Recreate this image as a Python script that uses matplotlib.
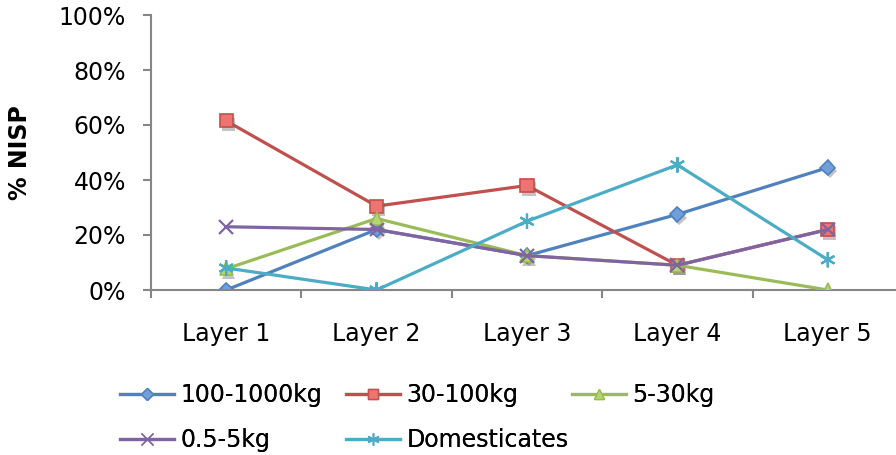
import numpy as np
import matplotlib.pyplot as plt
import matplotlib.patheffects as pe

### DATA
layers = ['Layer 1', 'Layer 2', 'Layer 3', 'Layer 4', 'Layer 5']
large = [0, 22, 12.5, 27.5, 44.5]        # 100-1000kg
medium = [61.5, 30.5, 38, 9, 22]         # 30-100kg
small = [7.7, 26, 12.5, 9, 0]            # 5-30kg
tiny = [23, 22, 12.5, 9, 22]             # 0.5-5kg
domestic = [8, 0, 25, 45.5, 11]          # Domesticates
names = ['100-1000kg', '30-100kg', '5-30kg', '0.5-5kg', 'Domesticates']

### STYLE
series = [large, medium, small, tiny, domestic]
colors = ['#4F81BD', '#C0504D', '#9BBB59', '#8064A2', '#4BACC6']
fills = ['#6FA0DC', '#EE7472', '#B5D56E', '#8064A2', '#4BACC6']
markers = ['D', 's', '^', 'x', (6, 2, 0)]
msizes = [7.5, 9.5, 9.5, 10, 11]
# legend slots (pixels from top-left): three on the first row, two below
leg_x = [120, 346, 572, 120, 346]
leg_y = [395, 395, 395, 440, 440]

plt.rcParams['font.family'] = 'DejaVu Sans'
W, H = 896, 455
fig = plt.figure(figsize=(W/100, H/100), dpi=100)
ax = fig.add_axes([151/W, 165/H, 752/W, 275/H])

x = np.arange(len(layers))
shadow = [pe.SimplePatchShadow(offset=(1.5, -2.5), shadow_rgbFace='#555555', alpha=0.35), pe.Normal()]
handles = []
for i in range(len(series)):
    ax.plot(x, series[i], color=colors[i], lw=2.3, zorder=2 + i)
    ax.plot(x, series[i], ls='none', marker=markers[i], ms=msizes[i],
            mfc=fills[i], mec=colors[i], mew=1.2 if i < 3 else 1.6,
            zorder=2.5 + i, path_effects=shadow)
    # legend handle only
    h, = ax.plot([], [], color=colors[i], lw=2.3, marker=markers[i],
                 ms=msizes[i] * 0.8, mfc=fills[i], mec=colors[i], label=names[i])
    handles.append(h)

ax.set_xlim(-0.5, 4.5)
ax.set_ylim(0, 100)
ax.set_yticks(range(0, 101, 20))
ax.set_yticklabels([f'{v}%' for v in range(0, 101, 20)])
ax.set_xticks(x)
ax.set_xticklabels(layers)
ax.set_xticks(np.arange(-0.5, 4.6, 1), minor=True)

grey = '#868686'
for s in ['top', 'right']:
    ax.spines[s].set_visible(False)
for s in ['left', 'bottom']:
    ax.spines[s].set_color(grey)
    ax.spines[s].set_linewidth(1.5)
ax.tick_params(axis='y', length=6, width=1.5, color=grey, labelsize=17, pad=12)
ax.tick_params(axis='x', which='major', length=0, labelsize=17, pad=23)
ax.tick_params(axis='x', which='minor', length=6, width=1.5, color=grey)
ax.set_ylabel('% NISP', fontsize=17, fontweight='bold', labelpad=19)

# one small legend per entry so the columns line up like a grid
for i in range(len(handles)):
    leg = fig.legend(handles=[handles[i]], loc='center left',
                     bbox_to_anchor=(leg_x[i]/W, 1 - leg_y[i]/H), frameon=False,
                     fontsize=17, handlelength=2.3, handletextpad=0.25,
                     borderpad=0, borderaxespad=0)
    fig.add_artist(leg)

fig.savefig('out.png', dpi=100)
